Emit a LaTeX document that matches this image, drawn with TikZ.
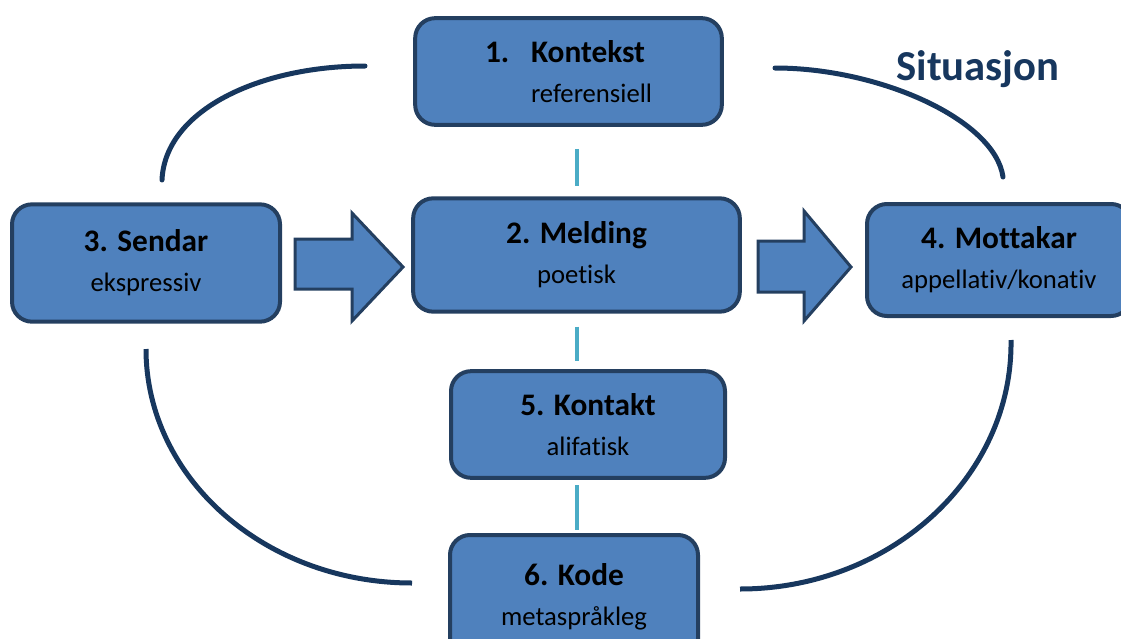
\documentclass[tikz,border=0pt]{standalone}
\usepackage{fontspec}
\setmainfont{Carlito}[Ligatures=NoCommon]
\definecolor{boxfill}{HTML}{4F81BD}
\definecolor{boxline}{HTML}{243F60}
\definecolor{arcline}{HTML}{17375E}
\definecolor{linkcyan}{HTML}{4BACC6}
\tikzset{
  box/.style={draw=boxline, fill=boxfill, line width=3pt, rounded corners=15pt,
    inner sep=0pt, align=center, font=\fontsize{20}{30}\selectfont},
  blockarrow/.style={draw=boxline, fill=boxfill, line width=2.25pt},
  arc/.style={draw=arcline, line width=3.75pt},
  link/.style={draw=linkcyan, line width=3pt},
}
\newcommand{\boxhead}[1]{{\bfseries\fontsize{23.5}{30}\selectfont #1}}
\begin{document}
\begin{tikzpicture}[x=0.75pt,y=-0.75pt]
  \useasboundingbox (0,0) rectangle (1121,639);
  % the situation round the message
  \draw[arc, line cap=round] (162,180) .. controls (165,110) and (260,66) .. (365,66);
  \draw[arc, line cap=round] (775,68) .. controls (880,68) and (995,120) .. (1003,177);
  \draw[arc] (146,349) .. controls (146,478) and (265,583) .. (412,583);
  \draw[arc] (1011,340) .. controls (1013,477) and (890,589) .. (740,589);
  \node[font=\bfseries\fontsize{32}{38}\selectfont, text=arcline] (situasjon) at (978,69) {Situasjon};
  % the six functions
  \node[box, minimum width=230pt, minimum height=80pt, align=left] (kontekst) at (568.5,71.5)
    {\boxhead{\makebox[34.5pt][l]{1.}Kontekst}\\\makebox[34.5pt]{}referensiell};
  \node[box, minimum width=245pt, minimum height=85pt] (melding) at (576.5,255)
    {\boxhead{2. Melding}\\poetisk};
  \node[box, minimum width=201pt, minimum height=88pt] (sendar) at (146,263)
    {\boxhead{3. Sendar}\\ekspressiv};
  \node[box, minimum width=198pt, minimum height=84pt] (mottakar) at (999,260)
    {\boxhead{4. Mottakar}\\appellativ/konativ};
  \node[box, minimum width=205.5pt, minimum height=80pt] (kontakt) at (588,424.5)
    {\boxhead{5. Kontakt}\\alifatisk};
  \node[box, minimum width=186pt, minimum height=93pt] (kode) at (574,597)
    {\boxhead{6. Kode}\\metaspråkleg};
  % block arrows
  \draw[blockarrow] (295,239) -- (352,239) -- (352,213) -- (403,267) -- (352,321)
    -- (352,289) -- (295,289) -- cycle;
  \draw[blockarrow] (758,241) -- (804,241) -- (804,211) -- (851,267) -- (804,321)
    -- (804,292) -- (758,292) -- cycle;
  % links
  \draw[link, shorten <=16.5pt, shorten >=8pt] (melding.north |- kontekst.south) -- (melding.north);
  \draw[link, shorten <=9.75pt, shorten >=6pt] (melding.south) -- (melding.south |- kontakt.north);
  \draw[link, shorten <=4pt, shorten >=2pt] (melding.south |- kontakt.south) -- (melding.south |- kode.north);
\end{tikzpicture}
\end{document}
